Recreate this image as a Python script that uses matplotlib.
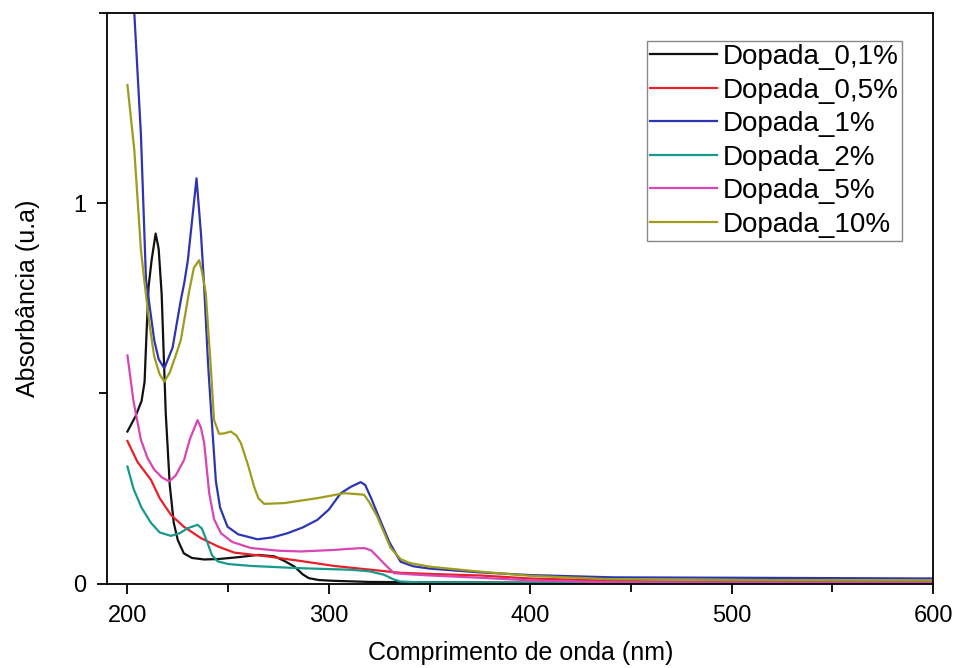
import numpy as np
import matplotlib
matplotlib.use("Agg")
import matplotlib.pyplot as plt
from matplotlib.ticker import MultipleLocator

plt.rcParams['font.family'] = ['Liberation Sans', 'DejaVu Sans']

# Data (wavelength nm, absorbance u.a.)
labels = ["Dopada_0,1%", "Dopada_0,5%", "Dopada_1%", "Dopada_2%", "Dopada_5%", "Dopada_10%"]
colors = ["#111111", "#e8202a", "#2d36b0", "#17998c", "#d845b4", "#9c9c1e"]

wl_01 = [200, 204, 207, 208.5, 209.5, 210.5, 212, 214, 215.5, 217, 219, 221, 223, 225, 228, 232,
         238, 245, 255, 265, 273, 278, 283, 287, 290, 295, 302, 320, 350, 400, 500, 600]
ab_01 = [0.40, 0.44, 0.48, 0.53, 0.66, 0.78, 0.85, 0.92, 0.88, 0.76, 0.45, 0.26, 0.16, 0.115, 0.08,
         0.068, 0.064, 0.065, 0.07, 0.076, 0.072, 0.06, 0.045, 0.025, 0.015, 0.01, 0.008, 0.005,
         0.004, 0.003, 0.003, 0.003]

wl_05 = [200, 205, 211.7, 216, 221.6, 228, 236.5, 245, 253, 269.5, 286, 302.6, 319, 335.6, 350,
         375, 400, 440, 500, 600]
ab_05 = [0.375, 0.32, 0.273, 0.225, 0.181, 0.15, 0.12, 0.098, 0.082, 0.072, 0.06, 0.047, 0.038,
         0.029, 0.026, 0.022, 0.014, 0.008, 0.004, 0.003]

wl_1 = [200, 203.4, 206.7, 209.2, 213.3, 215.5, 218.3, 222.4, 226.5, 228.2, 230, 232, 234.3, 236.5,
        238.1, 240, 241.4, 243.9, 246, 249.7, 255, 264.6, 272, 279.5, 287, 294.3, 300, 305.9, 311,
        315.8, 318, 321, 324, 330, 335.6, 342, 350, 375, 400, 441, 500, 550, 600]
ab_1 = [1.83, 1.50, 1.18, 0.80, 0.64, 0.59, 0.566, 0.62, 0.745, 0.79, 0.85, 0.95, 1.065, 0.92,
        0.78, 0.58, 0.465, 0.27, 0.2, 0.15, 0.13, 0.117, 0.122, 0.133, 0.148, 0.168, 0.195, 0.238,
        0.255, 0.267, 0.26, 0.225, 0.186, 0.11, 0.058, 0.046, 0.04, 0.03, 0.023, 0.017, 0.016,
        0.015, 0.014]

wl_2 = [200, 203, 207, 211.7, 216, 221.6, 226, 229.9, 234.8, 237, 239.8, 242, 244.8, 250, 261.3,
        286, 310.8, 320, 327.3, 332, 335.6, 345, 400, 600]
ab_2 = [0.308, 0.25, 0.2, 0.16, 0.135, 0.126, 0.133, 0.146, 0.155, 0.145, 0.107, 0.075, 0.059,
        0.052, 0.047, 0.041, 0.037, 0.033, 0.024, 0.012, 0.006, 0.004, 0.003, 0.002]

wl_5 = [200, 203, 206.7, 210, 213.3, 217, 220.7, 224, 228.1, 231, 234.8, 236.5, 238.1, 240.6, 243,
        246.4, 252, 261.3, 275, 286, 302.6, 310, 317.5, 321, 324, 328, 332.3, 340, 350, 375, 400,
        441, 500, 600]
ab_5 = [0.60, 0.48, 0.378, 0.33, 0.30, 0.28, 0.269, 0.285, 0.325, 0.38, 0.43, 0.41, 0.37, 0.238,
        0.17, 0.133, 0.11, 0.094, 0.087, 0.085, 0.089, 0.092, 0.094, 0.088, 0.072, 0.05, 0.028,
        0.025, 0.022, 0.016, 0.009, 0.004, 0.003, 0.002]

wl_10 = [200, 203.4, 206.7, 208.3, 211, 213.3, 216, 218.3, 221, 224, 226.5, 230.7, 233, 235.6, 237,
         238.9, 239.8, 241.5, 243, 245.5, 248, 251.3, 254, 256.3, 260, 262.9, 265, 267.9, 277.8,
         294.3, 307.5, 313, 317.5, 320, 324, 327, 330.6, 335.6, 340, 350, 375, 400, 441, 500, 600]
ab_10 = [1.31, 1.14, 0.877, 0.80, 0.68, 0.597, 0.55, 0.531, 0.555, 0.60, 0.64, 0.77, 0.83, 0.85,
         0.82, 0.763, 0.693, 0.56, 0.43, 0.394, 0.395, 0.40, 0.39, 0.37, 0.31, 0.255, 0.225, 0.21,
         0.212, 0.225, 0.238, 0.236, 0.234, 0.215, 0.177, 0.14, 0.095, 0.065, 0.055, 0.045, 0.032,
         0.021, 0.012, 0.01, 0.009]

series = [(wl_01, ab_01), (wl_05, ab_05), (wl_1, ab_1), (wl_2, ab_2), (wl_5, ab_5), (wl_10, ab_10)]

fig, ax = plt.subplots(figsize=(9.58, 6.68), dpi=100)
fig.subplots_adjust(left=0.112, right=0.974, top=0.981, bottom=0.126)

for (wl, ab), c, lab in zip(series, colors, labels):
    ax.plot(wl, ab, color=c, lw=1.6, label=lab)

ax.set_xlim(190, 600)
ax.set_ylim(0, 1.5)
ax.xaxis.set_major_locator(MultipleLocator(100))
ax.xaxis.set_minor_locator(MultipleLocator(50))
ax.yaxis.set_major_locator(MultipleLocator(1))
ax.yaxis.set_minor_locator(MultipleLocator(0.5))
ax.tick_params(which='both', direction='out', width=1.3, labelsize=17)
ax.tick_params(which='major', length=7, pad=8)
ax.tick_params(which='minor', length=6)
for s in ax.spines.values():
    s.set_linewidth(1.3)

ax.set_xlabel("Comprimento de onda (nm)", fontsize=18, labelpad=10)
ax.set_ylabel("Absorbância (u.a)", fontsize=18, labelpad=24)

leg = ax.legend(loc='upper right', bbox_to_anchor=(0.9625, 0.951), fontsize=20,
                frameon=True, fancybox=False, edgecolor='#888888', framealpha=1,
                handlelength=2.4, handletextpad=0.22, borderpad=0.12, labelspacing=0.27,
                borderaxespad=0)
leg.get_frame().set_linewidth(1.0)

plt.savefig("out.png", dpi=100)
